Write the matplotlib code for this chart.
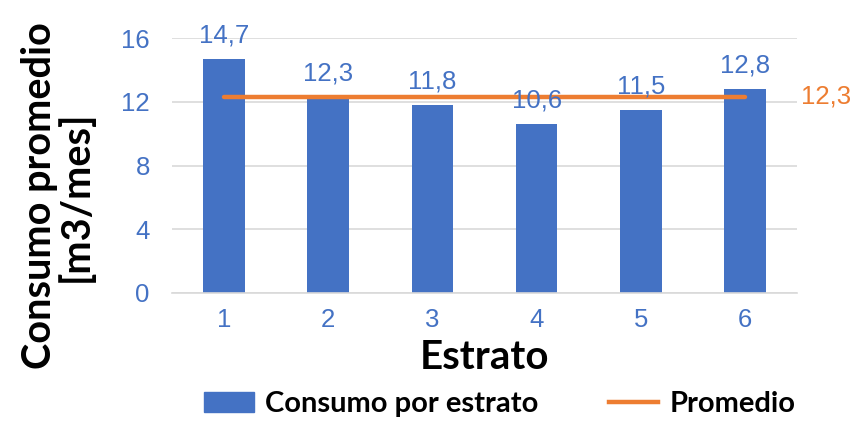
import matplotlib
matplotlib.use("Agg")
from matplotlib import pyplot as plt
from matplotlib.lines import Line2D
from matplotlib.patches import Patch

# Consumo por estrato socioeconomico
estratos = ['1', '2', '3', '4', '5', '6']
consumo = [14.7, 12.3, 11.8, 10.6, 11.5, 12.8]
promedio = 12.3
yticks = [0, 4, 8, 12, 16]

blue = '#4472C4'
orange = '#ED7D31'
grid = '#D9D9D9'

fig = plt.figure(figsize=(8.65, 4.21), dpi=100)
ax = fig.add_axes([172 / 865, 1 - 293 / 421, 625 / 865, 255 / 421])

x = list(range(1, len(estratos) + 1))
ax.bar(x, consumo, width=0.4, color=blue, zorder=2)
ax.plot([x[0], x[-1]], [promedio, promedio], color=orange, lw=3.2,
        solid_capstyle='round', zorder=3)

for xi, v in zip(x, consumo):
    ax.annotate(f'{v:.1f}'.replace('.', ','), (xi, v), xytext=(0, 8),
                textcoords='offset points', ha='center', va='bottom',
                fontsize=18.5, color=blue, family='Liberation Sans')
ax.annotate(f'{promedio:.1f}'.replace('.', ','), (6.5, promedio),
            xytext=(3, 0), textcoords='offset points', ha='left', va='center',
            fontsize=18.5, color=orange, family='Liberation Sans',
            annotation_clip=False)

ax.set_xlim(0.5, 6.5)
ax.set_ylim(0, 16)
ax.set_xticks(x)
ax.set_xticklabels(estratos)
ax.set_yticks(yticks)
ax.yaxis.grid(True, color=grid, lw=1.2, zorder=0)
ax.set_axisbelow(True)
for s in ['top', 'right', 'left']:
    ax.spines[s].set_visible(False)
ax.spines['bottom'].set_color(grid)
ax.spines['bottom'].set_linewidth(1.2)
ax.tick_params(length=0, labelsize=18.5, labelcolor=blue)
ax.tick_params(axis='y', pad=16)
ax.tick_params(axis='x', pad=11)
for lab in ax.get_xticklabels() + ax.get_yticklabels():
    lab.set_family('Liberation Sans')

ax.set_xlabel('Estrato', fontsize=29, fontweight='bold', family='Lato',
              labelpad=5)
# y title placed by hand so it can sit lower than the axes centre
fig.text(58 / 865, 1 - 196 / 421, 'Consumo promedio\n[m3/mes]', rotation=90,
         ha='center', va='center', fontsize=28.5, fontweight='bold',
         family='Lato', linespacing=0.95)

handles = [Patch(color=blue, label='Consumo por estrato'),
           Line2D([0], [0], color=orange, lw=3.2, label='Promedio')]
fig.legend(handles=handles, loc='center', bbox_to_anchor=(500 / 865, 1 - 404 / 421),
           ncol=2, frameon=False, prop={'family': 'Lato', 'weight': 'bold', 'size': 21},
           handlelength=1.7, columnspacing=2.4, handletextpad=0.4,
           borderpad=0)

fig.savefig('out.png', dpi=100)
